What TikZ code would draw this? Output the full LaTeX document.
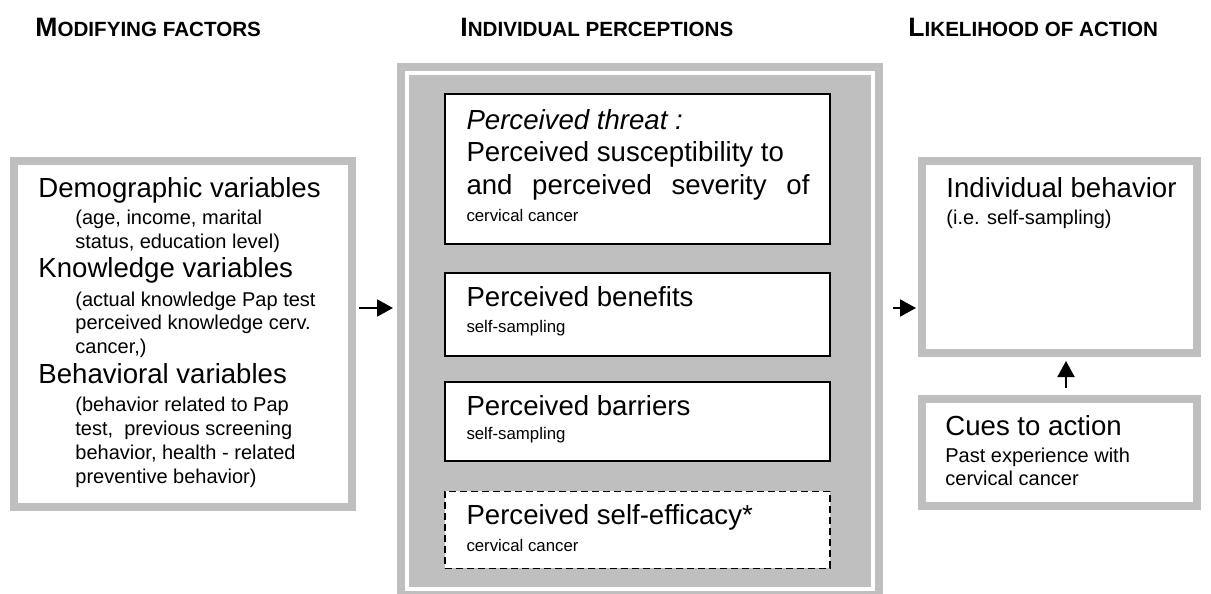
\documentclass[tikz,border=0pt]{standalone}
\usepackage{fontspec}
\setmainfont{Liberation Sans}
\usetikzlibrary{arrows.meta,positioning,calc}
\definecolor{boxgray}{RGB}{191,191,191}
\newcommand{\fsc}[2]{#1{\fontsize{10.3}{12}\selectfont #2}}

\begin{document}
\begin{tikzpicture}[x=0.5pt,y=-0.5pt,>={Triangle[length=8pt,width=8.5pt]},
  big/.style={font=\fontsize{13.8}{17}\selectfont,inner sep=0pt,anchor=base west},
  small/.style={font=\fontsize{10}{12}\selectfont,inner sep=0pt,anchor=base west},
  tiny/.style={font=\fontsize{8.4}{10}\selectfont,inner sep=0pt,anchor=base west},
  heading/.style={font=\fontsize{13.3}{15}\selectfont\bfseries,inner sep=0pt,anchor=base west},
  graybox/.style={draw=boxgray,line width=4pt,fill=white,inner sep=0pt},
  percbox/.style={draw=black,line width=0.9pt,fill=white,inner sep=0pt,minimum width=192.5pt},
  arr/.style={->,line width=1pt}]

  \useasboundingbox (0,0) rectangle (1211,594);

  % ==========================================
  % COLUMN HEADINGS
  % ==========================================
  \node[heading] (h_mod) at (35,36) {\fsc{M}{ODIFYING FACTORS}};
  \node[heading] (h_ind) at (460,36) {\fsc{I}{NDIVIDUAL PERCEPTIONS}};
  \node[heading] (h_lik) at (908,36) {\fsc{L}{IKELIHOOD OF ACTION}};

  % ==========================================
  % MODIFYING FACTORS (LEFT)
  % ==========================================
  \node[graybox, minimum width=169pt, minimum height=173pt] (factors) at (183,334) {};

  \node[big] (demo) at ($(factors.north west)+(28,40)$) {Demographic variables};
  \node[big] (know) at ($(factors.north west)+(28,120)$) {Knowledge variables};
  \node[big] (behv) at ($(factors.north west)+(28,226)$) {Behavioral variables};

  \foreach \dy/\txt [count=\i] in {67/{(age, income, marital},
      91/{status, education level)},
      149/{(actual knowledge Pap test},
      172/{perceived knowledge cerv.},
      196/{cancer,)},
      254/{(behavior related to Pap},
      278/{test,~ previous screening},
      302/{behavior, health - related},
      326/{preventive behavior)}}
    \node[small] (fac\i) at ($(factors.north west)+(65,\dy)$) {\txt};

  % ==========================================
  % INDIVIDUAL PERCEPTIONS (MIDDLE)
  % ==========================================
  \node[fill=boxgray, draw=white, line width=2pt, preaction={draw=boxgray,line width=10pt},
        minimum width=233pt, minimum height=258pt, inner sep=0pt, outer sep=5pt] (percep) at (640,331) {};

  \node[percbox, minimum height=75pt] (threat) at (637.5,169) {};
  \node[percbox, minimum height=41.5pt, below=13.5pt of threat] (benefit) {};
  \node[percbox, minimum height=39.5pt, below=12pt of benefit] (barrier) {};
  \node[percbox, minimum height=38.5pt, below=14.5pt of barrier, dash pattern=on 3.5pt off 2pt] (efficacy) {};

  % Perceived threat
  \node[big] (thr1) at ($(threat.north west)+(22,36)$) {\itshape Perceived threat :};
  \node[big] (thr2) at ($(threat.north west)+(22,68)$) {Perceived susceptibility to};
  \node[big] (thr3) at ($(threat.north west)+(22,101)$) {\hbox to 171.5pt{and\hfill perceived\hfill severity\hfill of}};
  \node[tiny] (thr4) at ($(threat.north west)+(22,128)$) {cervical cancer};

  % Benefits, barriers, self-efficacy
  \node[big] (ben1) at ($(benefit.north west)+(22,35)$) {Perceived benefits};
  \node[tiny] (ben2) at ($(benefit.north west)+(22,61)$) {self-sampling};
  \node[big] (bar1) at ($(barrier.north west)+(22,35)$) {Perceived barriers};
  \node[tiny] (bar2) at ($(barrier.north west)+(22,59)$) {self-sampling};
  \node[big] (eff1) at ($(efficacy.north west)+(22,34)$) {Perceived self-efficacy*};
  \node[tiny] (eff2) at ($(efficacy.north west)+(22,61)$) {cervical cancer};

  % ==========================================
  % LIKELIHOOD OF ACTION (RIGHT)
  % ==========================================
  \node[graybox, minimum width=137.5pt, minimum height=96pt] (behav) at (1059.5,257) {};
  \node[graybox, minimum width=137.5pt, minimum height=53.5pt] (cues) at (1059.5,452.5) {};

  \node[big] (beh1) at ($(behav.north west)+(28,40)$) {Individual behavior};
  \node[small] (beh2) at ($(behav.north west)+(28,67)$) {(i.e. self-sampling)};

  \node[big] (cue1) at ($(cues.north west)+(27,40)$) {Cues to action};
  \node[small] (cue2) at ($(cues.north west)+(27,67)$) {Past experience with};
  \node[small] (cue3) at ($(cues.north west)+(27,90)$) {cervical cancer};

  % ==========================================
  % ARROWS
  % ==========================================
  \coordinate (lvl) at (0,308);
  \coordinate (vx) at (1066,0);
  \draw[arr, shorten <=1.5pt, shorten >=2pt] (factors.east |- lvl) -- (percep.west |- lvl);
  \draw[arr, shorten <=5pt, shorten >=1pt] (percep.east |- lvl) -- (behav.west |- lvl);
  \draw[arr, shorten <=3.5pt, shorten >=2pt] (cues.north -| vx) -- (behav.south -| vx);

\end{tikzpicture}
\end{document}
